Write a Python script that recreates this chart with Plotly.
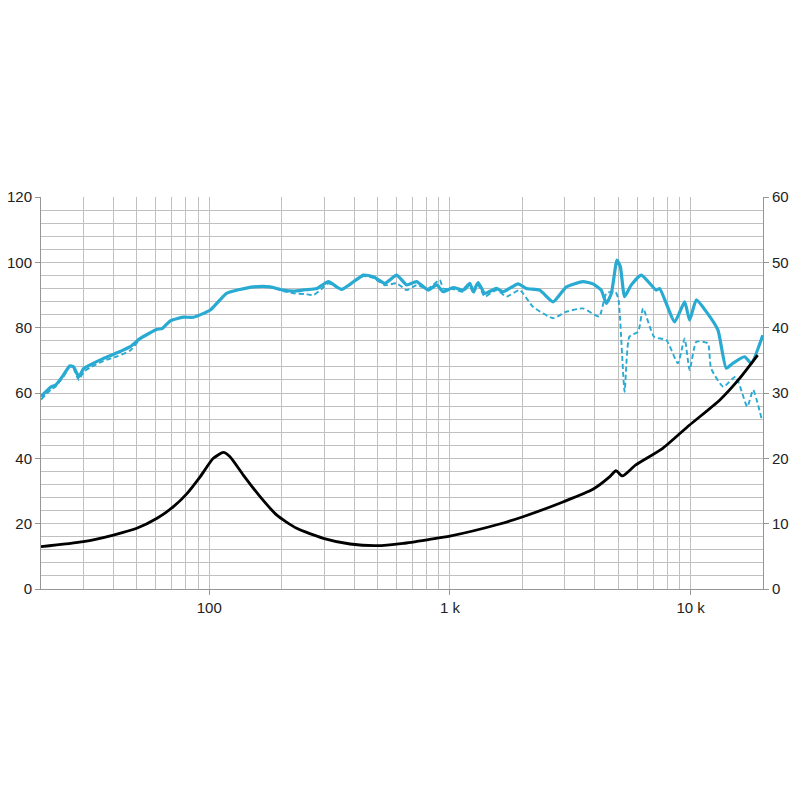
import plotly.graph_objects as go

# ---- data ----
spl_freq = [20, 22, 23, 24.8, 26.3, 27.3, 28.7, 30.1, 32, 36.4, 41.4, 47, 51.7, 60.7, 63.7, 68.9, 78, 86,
            101, 118, 134, 153, 179, 203, 224, 250, 280, 313, 355, 437, 481, 537, 601, 661, 727, 813, 881,
            938, 1032, 1136, 1210, 1250, 1310, 1396, 1562, 1665, 1920, 2080, 2361, 2685, 3050, 3575, 3929,
            4255, 4467, 4688, 4946, 5107, 5321, 5673, 6240, 7205, 7438, 8590, 9450, 9910, 10570, 11620,
            12990, 14070, 14990, 16760, 17870, 19960]
spl_db = [58.9, 61.9, 62.4, 65.5, 68.3, 68.0, 65.0, 67.5, 68.6, 70.6, 72.3, 74.2, 76.7, 79.5, 79.7, 82.1, 83.2, 83.2,
          85.4, 90.5, 91.7, 92.5, 92.5, 91.5, 91.2, 91.6, 92.0, 94.1, 91.7, 96.1, 95.6, 93.6, 96.1, 93.1, 94.1, 91.5, 93.1,
          91.0, 92.3, 91.5, 93.6, 91.0, 93.8, 90.5, 92.0, 91.0, 93.4, 92.0, 91.5, 87.9, 92.5, 94.1, 93.4,
          91.5, 87.4, 90.5, 100.7, 98.7, 89.5, 93.1, 96.1, 91.5, 92.0, 81.8, 87.9, 82.3, 88.5, 84.9,
          79.3, 67.6, 69.1, 71.1, 69.1, 77.7]

spl2_freq = [20, 22, 23, 24.8, 26.3, 27.3, 28.7, 30.1, 32, 36.4, 41.4, 47, 51.7, 60.7, 63.7, 68.9, 78, 86,
             101, 118, 134, 153, 179, 203, 224, 250, 271, 300, 313, 355, 437, 481, 537, 601, 661, 727, 813,
             908, 938, 1032, 1136, 1210, 1250, 1310, 1396, 1562, 1720, 1950, 2213, 2685, 3050, 3575, 4170,
             4467, 4870, 5020, 5321, 5566, 6060, 6350, 7053, 7930, 8853, 9450, 9910, 10570, 11800, 12160,
             13680, 15400, 17200, 18200, 19800]
spl2_db = [58.0, 61.0, 62.0, 65.0, 68.0, 67.5, 64.0, 66.5, 67.8, 69.8, 71.2, 73.0, 76.5, 79.5, 79.7, 82.1, 83.2, 83.2,
           85.4, 90.5, 91.7, 92.5, 92.5, 91.2, 90.5, 90.3, 90.0, 92.5, 93.6, 91.7, 95.8, 95.2, 93.0, 93.6, 91.5, 93.0, 92.0,
           94.6, 92.0, 91.8, 91.0, 93.0, 90.5, 93.0, 89.5, 91.5, 89.5, 91.5, 86.4, 82.9, 84.9, 85.9, 83.4,
           90.5, 91.0, 88.5, 60.4, 77.2, 78.8, 85.9, 77.2, 76.2, 69.1, 76.7, 67.0, 75.7, 75.2, 67.6,
           61.9, 65.0, 55.8, 60.9, 51.7]

imp_freq = [20, 30, 40, 50, 60.7, 71, 80.8, 91.8, 104, 114.6, 122, 138.8, 163, 191, 231, 298, 385, 496,
            640, 824, 1000, 1610, 2013, 2967, 3929, 4620, 4900, 5210, 5920, 7640, 9910, 13200, 15960, 19000]
imp_ohm = [6.47, 7.24, 8.26, 9.29, 10.82, 12.6, 14.6, 17.2, 20.0, 20.9, 20.25, 17.4, 14.1, 11.3, 9.29, 7.76, 6.89, 6.63,
           6.99, 7.6, 8.1, 9.95, 11.06, 13.36, 15.26, 17.2, 18.1, 17.3, 19.0, 21.5, 25.1, 28.9, 32.2, 35.8]

x_major = [100, 1000, 10000]
x_major_text = ["100", "1 k", "10 k"]
x_minor = [20, 30, 40, 50, 60, 70, 80, 90, 100, 200, 300, 400, 500, 600, 700, 800, 900,
           1000, 2000, 3000, 4000, 5000, 6000, 7000, 8000, 9000, 10000, 20000]

BLUE = "rgb(40,170,210)"
GRID = "rgb(192,192,192)"
AXIS = "rgb(150,150,150)"
FONT = dict(family="Liberation Sans, Arial, sans-serif", size=15, color="#222222")

fig = go.Figure()
fig.add_trace(go.Scatter(x=spl2_freq, y=spl2_db, mode="lines",
                         line=dict(color=BLUE, width=1.9, dash="5px,3px", shape="spline", smoothing=0.5),
                         showlegend=False))
fig.add_trace(go.Scatter(x=spl_freq, y=spl_db, mode="lines",
                         line=dict(color=BLUE, width=3.2, shape="spline", smoothing=0.5),
                         showlegend=False))
fig.add_trace(go.Scatter(x=imp_freq, y=imp_ohm, mode="lines", yaxis="y2",
                         line=dict(color="black", width=2.8, shape="spline", smoothing=0.6),
                         showlegend=False))

fig.update_layout(
    width=792, height=792,
    margin=dict(l=33, r=37, t=189, b=211, autoexpand=False),
    paper_bgcolor="white", plot_bgcolor="white",
    font=FONT,
    xaxis=dict(type="log", range=[1.30103, 4.30103], automargin=False,
               tickvals=x_major, ticktext=x_major_text,
               ticks="outside", ticklen=5, tickcolor=AXIS,
               showgrid=True, gridcolor=GRID, gridwidth=1,
               showline=True, linecolor=AXIS, linewidth=1,
               minor=dict(tickvals=x_minor, showgrid=True, gridcolor=GRID, gridwidth=1, ticks=""),
               zeroline=False, fixedrange=True),
    yaxis=dict(range=[0, 120], dtick=20, tick0=0, automargin=False,
               ticks="outside", ticklen=5, tickcolor=AXIS,
               showgrid=True, gridcolor=GRID, gridwidth=1,
               showline=True, linecolor=AXIS, linewidth=1,
               minor=dict(dtick=4, tick0=0, showgrid=True, gridcolor=GRID, gridwidth=1, ticks=""),
               zeroline=False),
    yaxis2=dict(range=[0, 60], dtick=10, tick0=0, overlaying="y", side="right", automargin=False,
                ticks="outside", ticklen=5, tickcolor=AXIS,
                showgrid=False, showline=True, linecolor=AXIS, linewidth=1,
                zeroline=False),
)

fig.write_html("out.html")
